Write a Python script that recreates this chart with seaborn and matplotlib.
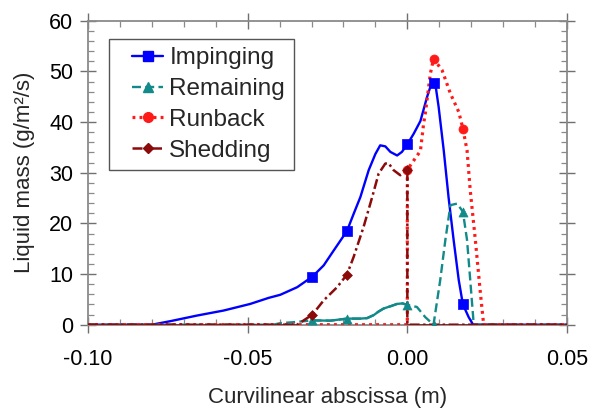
import numpy as np
import pandas as pd
import matplotlib
matplotlib.use("Agg")
import matplotlib.pyplot as plt
from matplotlib.lines import Line2D
from matplotlib.legend_handler import HandlerLine2D
from matplotlib.ticker import MultipleLocator, FormatStrFormatter
import seaborn as sns

# Liquid mass distributions along the curvilinear abscissa (m)
imp_x = [-0.100, -0.080, -0.0742, -0.0659, -0.0575, -0.0492, -0.0434, -0.0398, -0.0345,
         -0.0297, -0.0262, -0.0230, -0.0189, -0.0168, -0.0147, -0.0121, -0.0100, -0.0085,
         -0.0069, -0.0053, -0.0032, -0.0017, 0.0000, 0.0020, 0.0041, 0.0062, 0.0074, 0.0082,
         0.0090, 0.0098, 0.0114, 0.0129, 0.0145, 0.0161, 0.0174, 0.0192, 0.0206, 0.050]
imp_y = [0.0, 0.0, 0.7, 1.8, 2.8, 4.1, 5.3, 5.9, 7.4,
         9.5, 11.7, 14.7, 18.5, 21.9, 25.2, 30.5, 33.7, 35.4,
         35.2, 34.1, 33.4, 34.1, 35.6, 37.7, 40.2, 45.0, 47.3, 47.8,
         46.5, 43.0, 34.4, 25.2, 16.7, 8.8, 4.0, 1.5, 0.0, 0.0]

rem_x = [-0.100, -0.042, -0.0398, -0.0356, -0.0297, -0.0241, -0.0189, -0.0147, -0.0126,
         -0.0105, -0.0090, -0.0074, -0.0050, -0.0032, -0.0015, 0.0000, 0.0030, 0.0056,
         0.0082, 0.0103, 0.0119, 0.0135, 0.0156, 0.0174, 0.0187, 0.0197, 0.0208, 0.050]
rem_y = [0.0, 0.0, 0.3, 0.5, 0.85, 0.8, 1.2, 1.2, 1.3,
         1.9, 2.6, 3.2, 3.7, 4.1, 4.2, 3.9, 3.5, 1.5,
         0.0, 8.8, 16.7, 23.6, 23.9, 22.3, 16.7, 8.8, 0.0, 0.0]

run_x = [-0.100, 0.0000, 0.0000, 0.0010, 0.0041, 0.0051, 0.0056, 0.0067, 0.0072, 0.0082,
         0.0109, 0.0135, 0.0161, 0.0174, 0.0187, 0.0197, 0.0213, 0.0229, 0.0239, 0.050]
run_y = [0.0, 0.0, 30.6, 31.5, 34.3, 39.7, 41.6, 47.0, 49.5, 52.5,
         50.2, 45.6, 42.0, 38.7, 34.4, 26.5, 16.7, 6.1, 0.0, 0.0]

shed_x = [-0.100, -0.0345, -0.0297, -0.0262, -0.0220, -0.0189, -0.0168, -0.0137, -0.0110,
          -0.0090, -0.0069, -0.0059, -0.0043, -0.0022, 0.0000, 0.0000, 0.050]
shed_y = [0.0, 0.0, 2.0, 4.8, 7.4, 9.9, 13.4, 19.3, 25.2,
          29.8, 31.8, 31.9, 30.5, 29.5, 30.6, 0.0, 0.0]

# Marked sample stations
imp_mx = [-0.0297, -0.0189, 0.0000, 0.0082, 0.0174]
imp_my = [9.5, 18.5, 35.6, 47.8, 4.0]
rem_mx = [-0.0297, -0.0189, 0.0000, 0.0082, 0.0174]
rem_my = [0.85, 1.2, 3.9, 0.0, 22.3]
run_mx = [0.0000, 0.0082, 0.0174]
run_my = [30.6, 52.5, 38.7]
shed_mx = [-0.0297, -0.0189, 0.0000]
shed_my = [2.0, 9.9, 30.6]

labels = ["Impinging", "Remaining", "Runback", "Shedding"]
colors = ["#0000ff", "#138a8a", "#ff1a1a", "#8b0a0a"]
markers = ["s", "^", "o", "D"]
msizes = [6.5, 6.5, 6.5, 5.0]
dashes = ["-", (0, (3.8, 1.8)), (0, (0.9, 1.3)), (0, (4.0, 1.4, 1.0, 1.4))]
widths = [1.7, 1.7, 2.3, 1.8]

sns.set_theme(style="white")
plt.rcParams["font.family"] = ["Liberation Sans", "DejaVu Sans"]
plt.rcParams["axes.unicode_minus"] = False

fig = plt.figure(figsize=(6.03, 4.08), dpi=100)
ax = fig.add_axes([88 / 603, 1 - 324.7 / 408, 479 / 603, 304 / 408])

series = [(imp_x, imp_y, imp_mx, imp_my),
          (rem_x, rem_y, rem_mx, rem_my),
          (run_x, run_y, run_mx, run_my),
          (shed_x, shed_y, shed_mx, shed_my)]

for i, (lx, ly, mx, my) in enumerate(series):
    df = pd.DataFrame({"x": lx, "y": ly})
    sns.lineplot(data=df, x="x", y="y", ax=ax, estimator=None, sort=False,
                 color=colors[i], linewidth=widths[i], linestyle=dashes[i],
                 zorder=2 + i)
    if labels[i] == "Remaining":
        # dense stretch of the remaining film is drawn continuous
        seg = df[(df.x >= -0.0297) & (df.x <= 0.0)]
        sns.lineplot(data=seg, x="x", y="y", ax=ax, estimator=None, sort=False,
                     color=colors[i], linewidth=widths[i], zorder=2 + i)
    if labels[i] == "Shedding":
        # zero-level shedding drawn as a continuous base line
        yz = np.where(np.asarray(ly) == 0.0, ly, np.nan)
        ax.plot(lx, yz, color=colors[i], linewidth=widths[i], zorder=2 + i)
    dm = pd.DataFrame({"x": mx, "y": my})
    sns.scatterplot(data=dm, x="x", y="y", ax=ax, marker=markers[i],
                    s=msizes[i] ** 2, color=colors[i], edgecolor=colors[i],
                    linewidth=0.5, zorder=10 + i)

ax.set_xlim(-0.10, 0.05)
ax.set_ylim(0, 60)
ax.xaxis.set_major_locator(MultipleLocator(0.05))
ax.xaxis.set_minor_locator(MultipleLocator(0.01))
ax.xaxis.set_major_formatter(FormatStrFormatter("%.2f"))
ax.yaxis.set_major_locator(MultipleLocator(10))
ax.yaxis.set_minor_locator(MultipleLocator(2))

spine_col = "#8a8a8a"
for s in ax.spines.values():
    s.set_color(spine_col)
    s.set_linewidth(1.3)

ax.tick_params(which="major", direction="inout", length=11, width=1.0,
               color="#707070", labelsize=15.5, labelcolor="black",
               top=True, right=True, bottom=True, left=True)
ax.tick_params(axis="x", which="major", pad=12)
ax.tick_params(axis="y", which="major", pad=5)
ax.tick_params(which="minor", direction="in", length=4, width=0.9,
               color="#8a8a8a", top=True, right=True, bottom=True, left=True)

ax.set_xlabel("Curvilinear abscissa (m)", fontsize=16, labelpad=12)
ax.set_ylabel("Liquid mass (g/m²/s)", fontsize=16, labelpad=10)


class ShortLineHandler(HandlerLine2D):
    """Legend handle whose line occupies only the right part of the handle box."""
    def __init__(self, frac, **kw):
        super().__init__(**kw)
        self.frac = frac

    def get_xdata(self, legend, xdescent, ydescent, width, height, fontsize):
        x0 = -xdescent + width * (1 - self.frac)
        x1 = -xdescent + width
        xd = np.array([x0, x1])
        return xd, np.array([(x0 + x1) / 2])


handles = [Line2D([], [], color=colors[i], linewidth=widths[i], linestyle=dashes[i],
                  marker=markers[i], markersize=msizes[i] + 0.5,
                  markerfacecolor=colors[i], markeredgecolor=colors[i])
           for i in range(4)]
leg = ax.legend(handles, labels, loc="upper left", bbox_to_anchor=(0.044, 0.94),
                borderaxespad=0, fontsize=17.5, frameon=True, fancybox=False,
                edgecolor="#555555", framealpha=1, borderpad=0.35, labelspacing=0.36,
                handlelength=1.88, handletextpad=0.25,
                handler_map={h: ShortLineHandler(0.69) for h in handles})
leg.get_frame().set_linewidth(1.0)

fig.savefig("out.png", dpi=100)
